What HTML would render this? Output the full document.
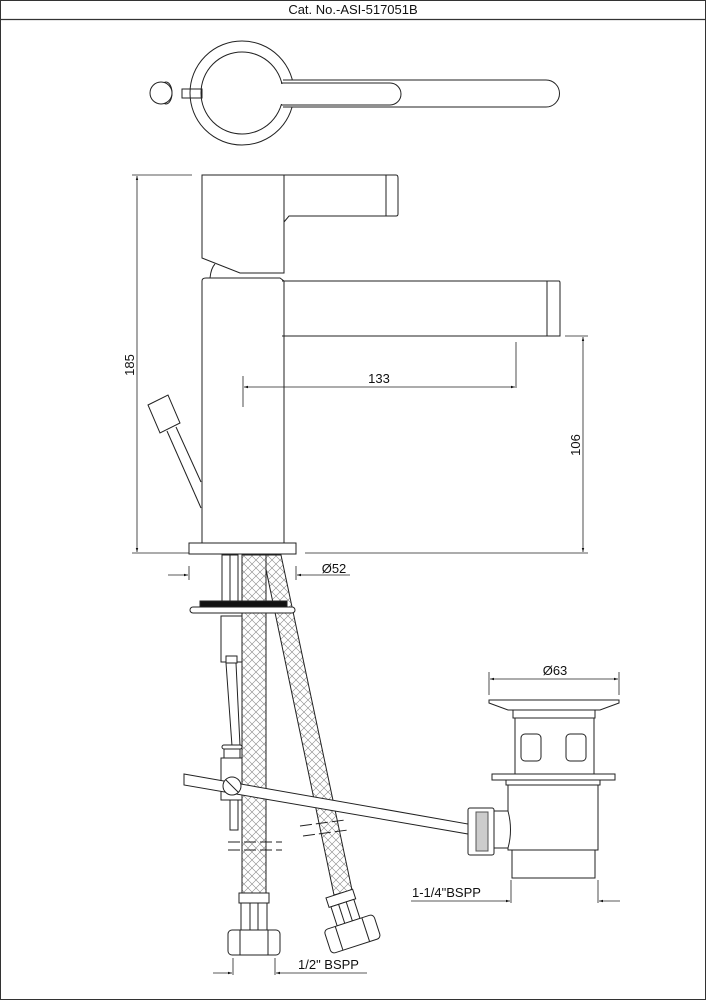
<!DOCTYPE html>
<html><head><meta charset="utf-8"><style>
html,body{margin:0;padding:0;background:#fff}
svg{display:block}
text{font-family:"Liberation Sans",Arial,sans-serif;fill:#111}
</style></head><body>
<svg width="706" height="1000" viewBox="0 0 706 1000" xmlns="http://www.w3.org/2000/svg">
<defs>
<pattern id="mesh" width="8" height="8" patternUnits="userSpaceOnUse">
<rect width="8" height="8" fill="#fff"/>
<path d="M0,0L8,8M8,0L0,8" stroke="#888" stroke-width="0.6"/>
</pattern>
<marker id="ar" viewBox="0 0 10 10" refX="10" refY="5" markerWidth="8" markerHeight="5" orient="auto-start-reverse"><path d="M0,2L10,5L0,8z" fill="#111"/></marker>
</defs>
<rect x="0.5" y="0.5" width="705" height="999" fill="none" stroke="#333"/>
<line x1="0" y1="19.5" x2="706" y2="19.5" stroke="#333" stroke-width="1.2"/>
<text x="353" y="14" font-size="13" text-anchor="middle">Cat. No.-ASI-517051B</text>

<g fill="none" stroke="#222" stroke-width="1">
<!-- top view -->
<circle cx="242" cy="93" r="52"/>
<path d="M283,80 L546,80 A13.5,13.5 0 0 1 546,107 L283,107" fill="#fff"/>
<circle cx="242" cy="93" r="41" fill="#fff"/>
<path d="M281,83 L390,83 A11,11 0 0 1 390,105 L281,105"/>
<rect x="281" y="84" width="10" height="20" fill="#fff" stroke="none"/>
<rect x="182" y="89" width="20" height="9"/>
<ellipse cx="166" cy="93" rx="6" ry="11"/>
<circle cx="161" cy="93" r="11" fill="#fff"/>

<!-- side view -->
<path d="M202,175 L284,175 L284,273 L240,273 L202,258 Z"/>
<path d="M280,175 L396,175 Q398,175 398,178 L398,214 Q398,216 396,216 L289,216 L284,222"/>
<line x1="386" y1="175" x2="386" y2="216"/>
<path d="M210,278 Q211,268 215,264"/>
<path d="M202,543 L202,281 Q202,278 206,278 L280,278 L284,281"/>
<line x1="284" y1="281" x2="284" y2="543"/>
<path d="M282,281 L559,281 Q560,281 560,283 L560,336 L282,336"/>
<line x1="547" y1="281" x2="547" y2="336"/>
<rect x="189" y="543" width="107" height="11"/>
<!-- lift rod -->
<polygon points="148,405 168,395 180,423 160,433"/>
<line x1="167" y1="431" x2="201" y2="508"/>
<line x1="176" y1="427" x2="201" y2="482"/>
</g>

<!-- dimensions -->
<g stroke="#222" stroke-width="0.8" fill="none">
<line x1="132" y1="175" x2="192" y2="175"/>
<line x1="132" y1="553" x2="189" y2="553"/>
<line x1="137" y1="176" x2="137" y2="552" marker-start="url(#ar)" marker-end="url(#ar)"/>
<line x1="565" y1="336" x2="588" y2="336"/>
<line x1="305" y1="553" x2="588" y2="553"/>
<line x1="583" y1="337" x2="583" y2="552" marker-start="url(#ar)" marker-end="url(#ar)"/>
<line x1="243" y1="376" x2="243" y2="407"/>
<line x1="516" y1="342" x2="516" y2="388"/>
<line x1="244" y1="387" x2="515" y2="387" marker-start="url(#ar)" marker-end="url(#ar)"/>
<line x1="189" y1="566" x2="189" y2="580"/>
<line x1="296" y1="566" x2="296" y2="580"/>
<line x1="168" y1="575" x2="188" y2="575" marker-end="url(#ar)"/>
<line x1="350" y1="575" x2="297" y2="575" marker-end="url(#ar)"/>
<line x1="489" y1="672" x2="489" y2="695"/>
<line x1="619" y1="672" x2="619" y2="695"/>
<line x1="490" y1="679" x2="618" y2="679" marker-start="url(#ar)" marker-end="url(#ar)"/>
<line x1="511" y1="880" x2="511" y2="903"/>
<line x1="598" y1="880" x2="598" y2="903"/>
<line x1="411" y1="901" x2="510" y2="901" marker-end="url(#ar)"/>
<line x1="620" y1="901" x2="599" y2="901" marker-end="url(#ar)"/>
<line x1="233" y1="958" x2="233" y2="975"/>
<line x1="275" y1="958" x2="275" y2="975"/>
<line x1="213" y1="973" x2="232" y2="973" marker-end="url(#ar)"/>
<line x1="367" y1="973" x2="276" y2="973" marker-end="url(#ar)"/>
</g>
<text x="379" y="383" font-size="13" text-anchor="middle">133</text>
<text x="334" y="573" font-size="13" text-anchor="middle">Ø52</text>
<text x="555" y="675" font-size="13" text-anchor="middle">Ø63</text>
<text x="412" y="897" font-size="13">1-1/4"BSPP</text>
<text x="298" y="969" font-size="13">1/2" BSPP</text>
<text transform="translate(134,365) rotate(-90)" font-size="13" text-anchor="middle">185</text>
<text transform="translate(580,445) rotate(-90)" font-size="13" text-anchor="middle">106</text>

<!-- under-sink -->
<g stroke="#222" stroke-width="1">
<polygon points="263,555 281,555 352,890 334,895" fill="url(#mesh)"/>
<rect x="242" y="555" width="24" height="340" fill="url(#mesh)"/>
<rect x="222" y="555" width="16" height="46" fill="#fff"/>
<line x1="230" y1="555" x2="230" y2="601"/>
<rect x="200" y="601" width="87" height="6" fill="#111"/>
<rect x="190" y="607" width="105" height="6" rx="3" fill="#fff"/>
<rect x="221" y="616" width="21" height="46" fill="#fff"/>
<rect x="226" y="656" width="11" height="7" fill="#fff"/>
<polygon points="226,663 236,663 240,746 232,746" fill="#fff"/>
<rect x="222" y="745" width="20" height="4" rx="2" fill="#fff"/>
<rect x="224" y="749" width="16" height="9" fill="#fff"/>
<rect x="221" y="758" width="21" height="42" fill="#fff"/>
<polygon points="184,774 468,824 468,834 184,785" fill="#fff"/>
<circle cx="232" cy="786" r="9" fill="#fff"/>
<line x1="226" y1="780" x2="238" y2="792"/>
<rect x="230" y="800" width="8" height="30" fill="#fff"/>
<g stroke-dasharray="12,4" fill="none">
<line x1="228" y1="842" x2="282" y2="842"/><line x1="228" y1="850" x2="282" y2="850"/>
<line x1="300" y1="826" x2="345" y2="820"/><line x1="303" y1="836" x2="348" y2="830"/>
</g>
<rect x="239" y="893" width="30" height="10" fill="#fff"/>
<rect x="241" y="903" width="26" height="27" fill="#fff"/>
<line x1="250" y1="903" x2="250" y2="930"/><line x1="258" y1="903" x2="258" y2="930"/>
<rect x="228" y="930" width="52" height="25" rx="4" fill="#fff"/>
<line x1="240" y1="930" x2="240" y2="955"/><line x1="268" y1="930" x2="268" y2="955"/>
<g transform="translate(343,905) rotate(-18)">
<rect x="-14" y="-12" width="28" height="10" fill="#fff"/>
<rect x="-12" y="-2" width="24" height="20" fill="#fff"/>
<line x1="-4" y1="-2" x2="-4" y2="18"/><line x1="4" y1="-2" x2="4" y2="18"/>
<rect x="-26" y="18" width="52" height="25" rx="4" fill="#fff"/>
<line x1="-14" y1="18" x2="-14" y2="43"/><line x1="14" y1="18" x2="14" y2="43"/>
</g>
<!-- waste -->
<polygon points="489,700 619,700 619,703 600,710 508,710 489,703" fill="#fff"/>
<rect x="513" y="710" width="82" height="8" fill="#fff"/>
<rect x="515" y="718" width="79" height="57" fill="#fff"/>
<rect x="521" y="734" width="20" height="27" rx="4" fill="#fff"/>
<rect x="566" y="734" width="20" height="27" rx="4" fill="#fff"/>
<rect x="492" y="774" width="123" height="6" fill="#fff"/>
<rect x="506" y="780" width="94" height="5" fill="#fff"/>
<rect x="508" y="785" width="90" height="65" fill="#fff"/>
<rect x="512" y="850" width="83" height="28" fill="#fff"/>
<path d="M494,811 L508,811 Q513,830 508,848 L494,848 Z" fill="#fff"/>
<rect x="468" y="808" width="26" height="47" rx="2" fill="#fff"/>
<rect x="476" y="812" width="12" height="39" fill="#ccc" stroke="#555"/>
</g>
</svg>
</body></html>
